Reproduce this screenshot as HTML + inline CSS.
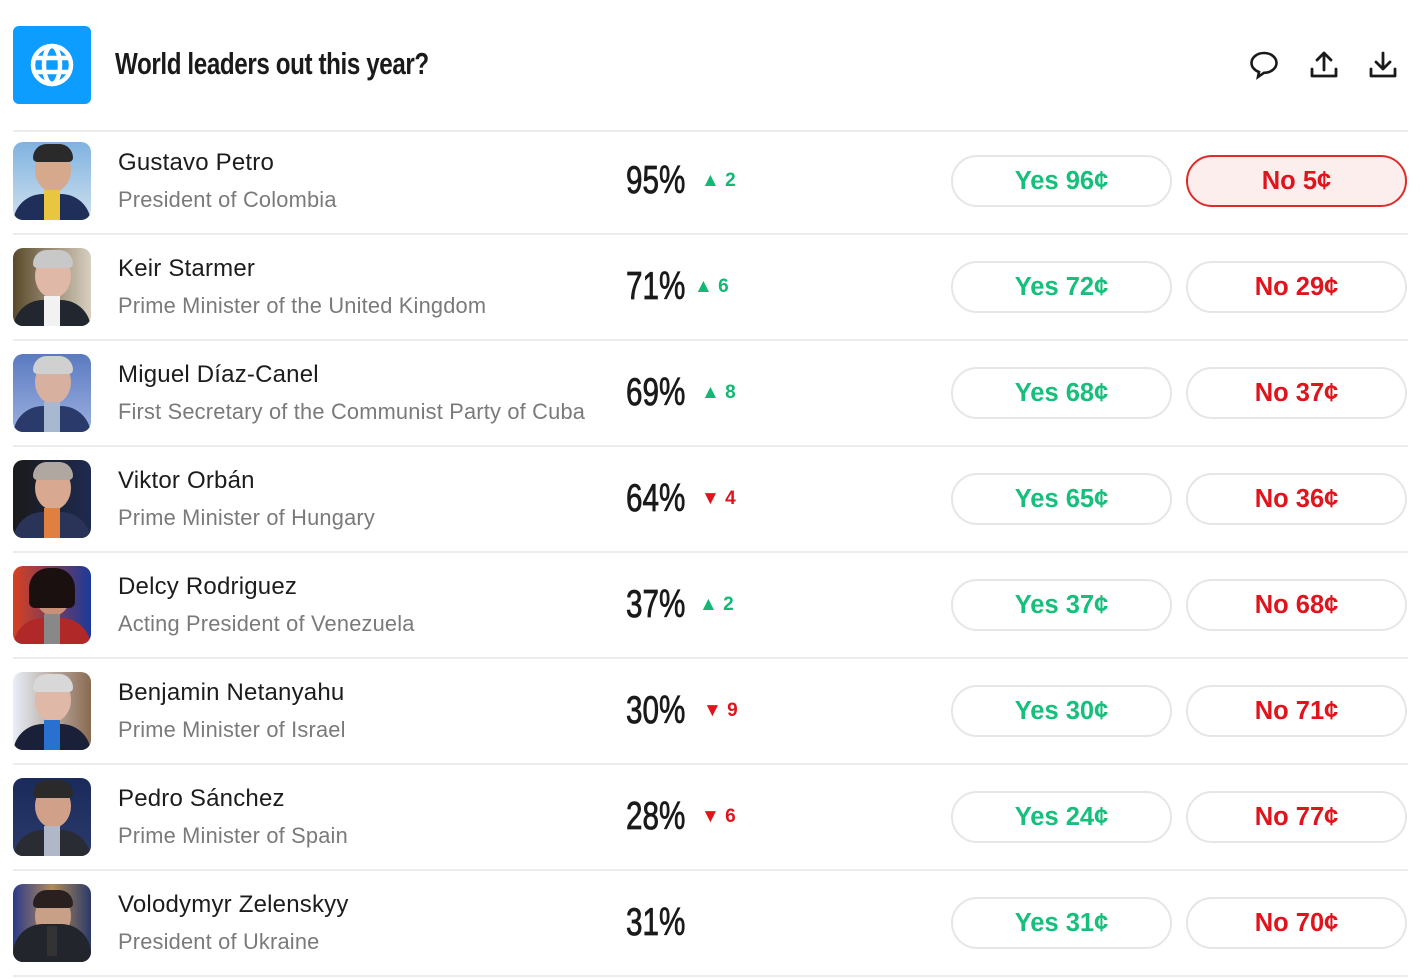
<!DOCTYPE html>
<html><head><meta charset="utf-8">
<style>
*{margin:0;padding:0;box-sizing:border-box}
body{width:1424px;height:979px;background:#fff;position:relative;overflow:hidden;font-family:"Liberation Sans",sans-serif;color:#1a1a1a}
.logo{position:absolute;left:13px;top:26px;width:78px;height:78px;background:#0d9cff;border-radius:6px}
.title{position:absolute;left:115px;top:46px;font-weight:bold;font-size:31px;letter-spacing:-0.5px;transform:scaleX(0.78);transform-origin:left;color:#1a1a1a;white-space:nowrap}
.ico{position:absolute;top:49px}
.sep{position:absolute;left:13px;width:1395px;height:2px;background:#ececec}
.row{position:absolute;left:0;width:1424px;height:106px}
.av{position:absolute;left:13px;top:14px;width:78px;height:78px;border-radius:10px;overflow:hidden}
.av .face{position:absolute;left:22px;top:6px;width:36px;height:44px;border-radius:50%;background:#d6a88c}
.av .hair{position:absolute;left:20px;top:2px;width:40px;height:18px;border-radius:20px 20px 6px 6px}
.av .suit{position:absolute;left:0;top:52px;width:78px;height:30px;border-radius:30px 30px 0 0}
.av .shirt{position:absolute;left:31px;top:48px;width:16px;height:30px;background:#f2f2f2}
.name{position:absolute;left:118px;top:21px;font-size:24px;color:#1c1c1c;letter-spacing:0.2px;white-space:nowrap}
.sub{position:absolute;left:118px;top:59px;font-size:21.8px;color:#7a7a7a;letter-spacing:0.2px;white-space:nowrap}
.pct{position:absolute;left:626px;top:31px;font-size:39px;color:#1a1a1a;transform:scaleX(0.76);transform-origin:left;white-space:nowrap;-webkit-text-stroke:0.8px #1a1a1a}
.chg{position:absolute;top:42px;font-size:19px;font-weight:bold;white-space:nowrap}
.up{color:#13b874}.dn{color:#e0141c}
.btn{position:absolute;top:27px;width:221px;height:52px;border:2px solid #e6e6e6;border-radius:26px;text-align:center;line-height:48px;font-size:25.5px;font-weight:bold}
.yes{left:951px;color:#17bf7c}
.no{left:1186px;color:#e0141c}
.no.act{border-color:#e02a2a;background:#fdeeee}
</style></head><body>
<div class="logo"><svg width="78" height="78" viewBox="0 0 78 78"><g fill="none" stroke="#fff" stroke-width="4.5"><circle cx="39" cy="39" r="19"/><ellipse cx="39" cy="39" rx="8" ry="19"/><line x1="20" y1="32" x2="58" y2="32"/><line x1="20" y1="46" x2="58" y2="46"/></g></svg></div>
<div class="title">World leaders out this year?</div>
<svg class="ico" style="left:1248px" width="32" height="32" viewBox="0 0 32 32"><path d="M16 4C9 4 3.5 8.5 3.5 14c0 4 3 7.4 7.5 9l-1 5 6-4.2C22.8 23.8 28.5 19.4 28.5 14 28.5 8.5 23 4 16 4z" fill="none" stroke="#1a1a1a" stroke-width="2.6"/></svg>
<svg class="ico" style="left:1308px" width="32" height="32" viewBox="0 0 32 32"><g fill="none" stroke="#1a1a1a" stroke-width="2.8" stroke-linecap="round" stroke-linejoin="round"><path d="M16 21V4M9 11l7-7 7 7M4 20v7h24v-7"/></g></svg>
<svg class="ico" style="left:1367px" width="32" height="32" viewBox="0 0 32 32"><g fill="none" stroke="#1a1a1a" stroke-width="2.8" stroke-linecap="round" stroke-linejoin="round"><path d="M16 4v16M9 13l7 7 7-7M4 20v7h24v-7"/></g></svg>

<div class="sep" style="top:130px"></div>
<div class="sep" style="top:233px"></div>
<div class="sep" style="top:339px"></div>
<div class="sep" style="top:445px"></div>
<div class="sep" style="top:551px"></div>
<div class="sep" style="top:657px"></div>
<div class="sep" style="top:763px"></div>
<div class="sep" style="top:869px"></div>
<div class="sep" style="top:975px"></div>

<div class="row" style="top:128px">
<div class="av" style="background:linear-gradient(#7fb2e0,#cfe0ee)"><div class="face"></div><div class="hair" style="background:#2a2a2a"></div><div class="suit" style="background:#1f2f5a"></div><div class="shirt" style="background:#e8c640"></div></div>
<div class="name">Gustavo Petro</div><div class="sub">President of Colombia</div>
<div class="pct">95%</div><div class="chg up" style="left:701px">▲ 2</div>
<div class="btn yes">Yes 96¢</div><div class="btn no act">No 5¢</div></div>

<div class="row" style="top:234px">
<div class="av" style="background:linear-gradient(90deg,#5a4a2a,#d8cfc0)"><div class="face" style="background:#e0b8a8"></div><div class="hair" style="background:#c8c8c8"></div><div class="suit" style="background:#22262e"></div><div class="shirt"></div></div>
<div class="name">Keir Starmer</div><div class="sub">Prime Minister of the United Kingdom</div>
<div class="pct">71%</div><div class="chg up" style="left:694px">▲ 6</div>
<div class="btn yes">Yes 72¢</div><div class="btn no">No 29¢</div></div>

<div class="row" style="top:340px">
<div class="av" style="background:linear-gradient(#5a7ac0,#9cb0e0)"><div class="face" style="background:#d8b0a0"></div><div class="hair" style="background:#d0d0d0"></div><div class="suit" style="background:#2a3a6a"></div><div class="shirt" style="background:#a8b8d0"></div></div>
<div class="name">Miguel Díaz-Canel</div><div class="sub">First Secretary of the Communist Party of Cuba</div>
<div class="pct">69%</div><div class="chg up" style="left:701px">▲ 8</div>
<div class="btn yes">Yes 68¢</div><div class="btn no">No 37¢</div></div>

<div class="row" style="top:446px">
<div class="av" style="background:linear-gradient(90deg,#1a1a1a,#1e2a50)"><div class="face" style="background:#d8a890"></div><div class="hair" style="background:#b0a8a0"></div><div class="suit" style="background:#2a3458"></div><div class="shirt" style="background:#e08040"></div></div>
<div class="name">Viktor Orbán</div><div class="sub">Prime Minister of Hungary</div>
<div class="pct">64%</div><div class="chg dn" style="left:701px">▼ 4</div>
<div class="btn yes">Yes 65¢</div><div class="btn no">No 36¢</div></div>

<div class="row" style="top:552px">
<div class="av" style="background:linear-gradient(90deg,#d84020,#1a3a9a)"><div class="face" style="background:#c89078"></div><div class="hair" style="background:#1a1010;height:40px;left:16px;width:46px"></div><div class="suit" style="background:#b02828"></div><div class="shirt" style="background:#888"></div></div>
<div class="name">Delcy Rodriguez</div><div class="sub">Acting President of Venezuela</div>
<div class="pct">37%</div><div class="chg up" style="left:699px">▲ 2</div>
<div class="btn yes">Yes 37¢</div><div class="btn no">No 68¢</div></div>

<div class="row" style="top:658px">
<div class="av" style="background:linear-gradient(90deg,#e8eef8,#8a6a50)"><div class="face" style="background:#e0b8a8"></div><div class="hair" style="background:#d8d8d8"></div><div class="suit" style="background:#1a2038"></div><div class="shirt" style="background:#2a70d0"></div></div>
<div class="name">Benjamin Netanyahu</div><div class="sub">Prime Minister of Israel</div>
<div class="pct">30%</div><div class="chg dn" style="left:703px">▼ 9</div>
<div class="btn yes">Yes 30¢</div><div class="btn no">No 71¢</div></div>

<div class="row" style="top:764px">
<div class="av" style="background:linear-gradient(#1a2a5a,#2a3a6a)"><div class="face" style="background:#d0a088"></div><div class="hair" style="background:#2a2a2a"></div><div class="suit" style="background:#2a2c34"></div><div class="shirt" style="background:#b0b8c8"></div></div>
<div class="name">Pedro Sánchez</div><div class="sub">Prime Minister of Spain</div>
<div class="pct">28%</div><div class="chg dn" style="left:701px">▼ 6</div>
<div class="btn yes">Yes 24¢</div><div class="btn no">No 77¢</div></div>

<div class="row" style="top:870px">
<div class="av" style="background:linear-gradient(90deg,#2a3a8a,#b08a5a,#2a3a6a)"><div class="face" style="background:#c8a088;top:10px"></div><div class="hair" style="background:#2a2020;top:6px"></div><div class="suit" style="background:#22252c;top:40px;height:40px"></div><div class="shirt" style="top:42px;width:10px;left:34px;background:#333"></div></div>
<div class="name">Volodymyr Zelenskyy</div><div class="sub">President of Ukraine</div>
<div class="pct">31%</div>
<div class="btn yes">Yes 31¢</div><div class="btn no">No 70¢</div></div>
</body></html>
